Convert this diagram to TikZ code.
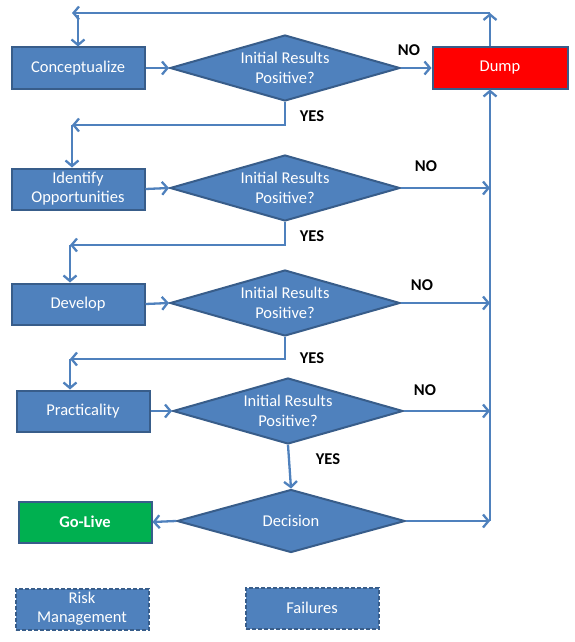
\documentclass[tikz,border=0pt]{standalone}
\usepackage{fontspec}
\setmainfont{Carlito}
\usetikzlibrary{shapes.geometric,arrows.meta}
\definecolor{bfill}{HTML}{4F81BD}
\definecolor{bdraw}{HTML}{385D8A}
\definecolor{gofill}{HTML}{00B050}
\tikzset{
  box/.style={draw=bdraw,line width=2pt,fill=bfill,text=white,minimum width=133pt,minimum height=41pt,inner sep=1pt,align=center,font=\fontsize{16.5}{19}\selectfont},
  dia/.style={diamond,draw=bdraw,line width=2pt,fill=bfill,text=white,minimum width=230pt,minimum height=66pt,inner sep=0pt,shape aspect=3.5,align=center,font=\fontsize{16.5}{20}\selectfont},
  conn/.style={draw=bfill,line width=2.3pt},
  arr/.style={conn,-{Straight Barb[length=5.5pt,width=13pt,line width=2.3pt]}},
  lbl/.style={font=\bfseries\fontsize{16.5}{18}\selectfont,text=black,inner sep=0pt},
  riskbox/.style={box,dash pattern=on 4pt off 2pt}
}
\begin{document}
\begin{tikzpicture}[x=1pt,y=-1pt]
\useasboundingbox (0,0) rectangle (575,642);
% nodes
\node[box] (concept) at (78,68) {Conceptualize};
\node[dia] (d1) at (285,68) {Initial Results\\Positive?};
\node[box,fill=red,minimum width=135pt] (dump) at (500,68) {Dump};
\node[box] (ident) at (78,189) {Identify\\Opportunities};
\node[dia] (d2) at (285,188) {Initial Results\\Positive?};
\node[box] (develop) at (78,304) {Develop};
\node[dia] (d3) at (285,303) {Initial Results\\Positive?};
\node[box] (pract) at (83,411) {Practicality};
\node[dia] (d4) at (288,411) {Initial Results\\Positive?};
\node[dia,minimum width=228pt,minimum height=63pt] (dec) at (291,521) {Decision};
\node[box,fill=gofill,font=\bfseries\fontsize{16.5}{19}\selectfont] (golive) at (85,522) {Go-Live};
\node[riskbox] (risk) at (82,609) {Risk\\Management};
\node[riskbox] (fail) at (312,608) {Failures};
% coordinates
\coordinate (tr) at (490,13);
\coordinate (tl) at (72,13);
\coordinate (tl2) at (78,15);
\coordinate (y1) at (72,125);
\coordinate (y2) at (70,245);
\coordinate (y3) at (70,359);
\coordinate (bus) at (490,521);
% top loop
\draw[arr] (dump.north -| tr) -- (tr);
\draw[arr] (tr) -- (tl);
\draw[arr] (tl2) -- (concept.north);
% row 1
\draw[arr] (concept.east) -- (d1.west);
\draw[arr] (d1.east) -- (dump.west);
\draw[arr] (d1.south) -- (d1.south |- y1) -- (y1);
\draw[arr] (y1) -- (ident.north -| y1);
% row 2
\draw[arr] (ident.east) -- (d2.west);
\draw[arr] (d2.east) -- (d2.east -| bus);
\draw[arr] (d2.south) -- (d2.south |- y2) -- (y2);
\draw[arr] (y2) -- (develop.north -| y2);
% row 3
\draw[arr] (develop.east) -- (d3.west);
\draw[arr] (d3.east) -- (d3.east -| bus);
\draw[arr] (d3.south) -- (d3.south |- y3) -- (y3);
\draw[arr] (y3) -- (pract.north -| y3);
% row 4
\draw[arr] (pract.east) -- (d4.west);
\draw[arr] (d4.east) -- (d4.east -| bus);
\draw[arr] (d4.south) -- (dec.north);
% decision
\draw[arr] (dec.west) -- (golive.east);
\draw[arr] (dec.east) -- (bus);
\draw[arr] (bus) -- (dump.south -| bus);
% labels
\node[lbl] (no1) at (409,50) {NO};
\node[lbl] (yes1) at (312,116) {YES};
\node[lbl] (no2) at (426,166) {NO};
\node[lbl] (yes2) at (312,236) {YES};
\node[lbl] (no3) at (422,285) {NO};
\node[lbl] (yes3) at (312,358) {YES};
\node[lbl] (no4) at (425,390) {NO};
\node[lbl] (yes4) at (328,459) {YES};
\end{tikzpicture}
\end{document}
